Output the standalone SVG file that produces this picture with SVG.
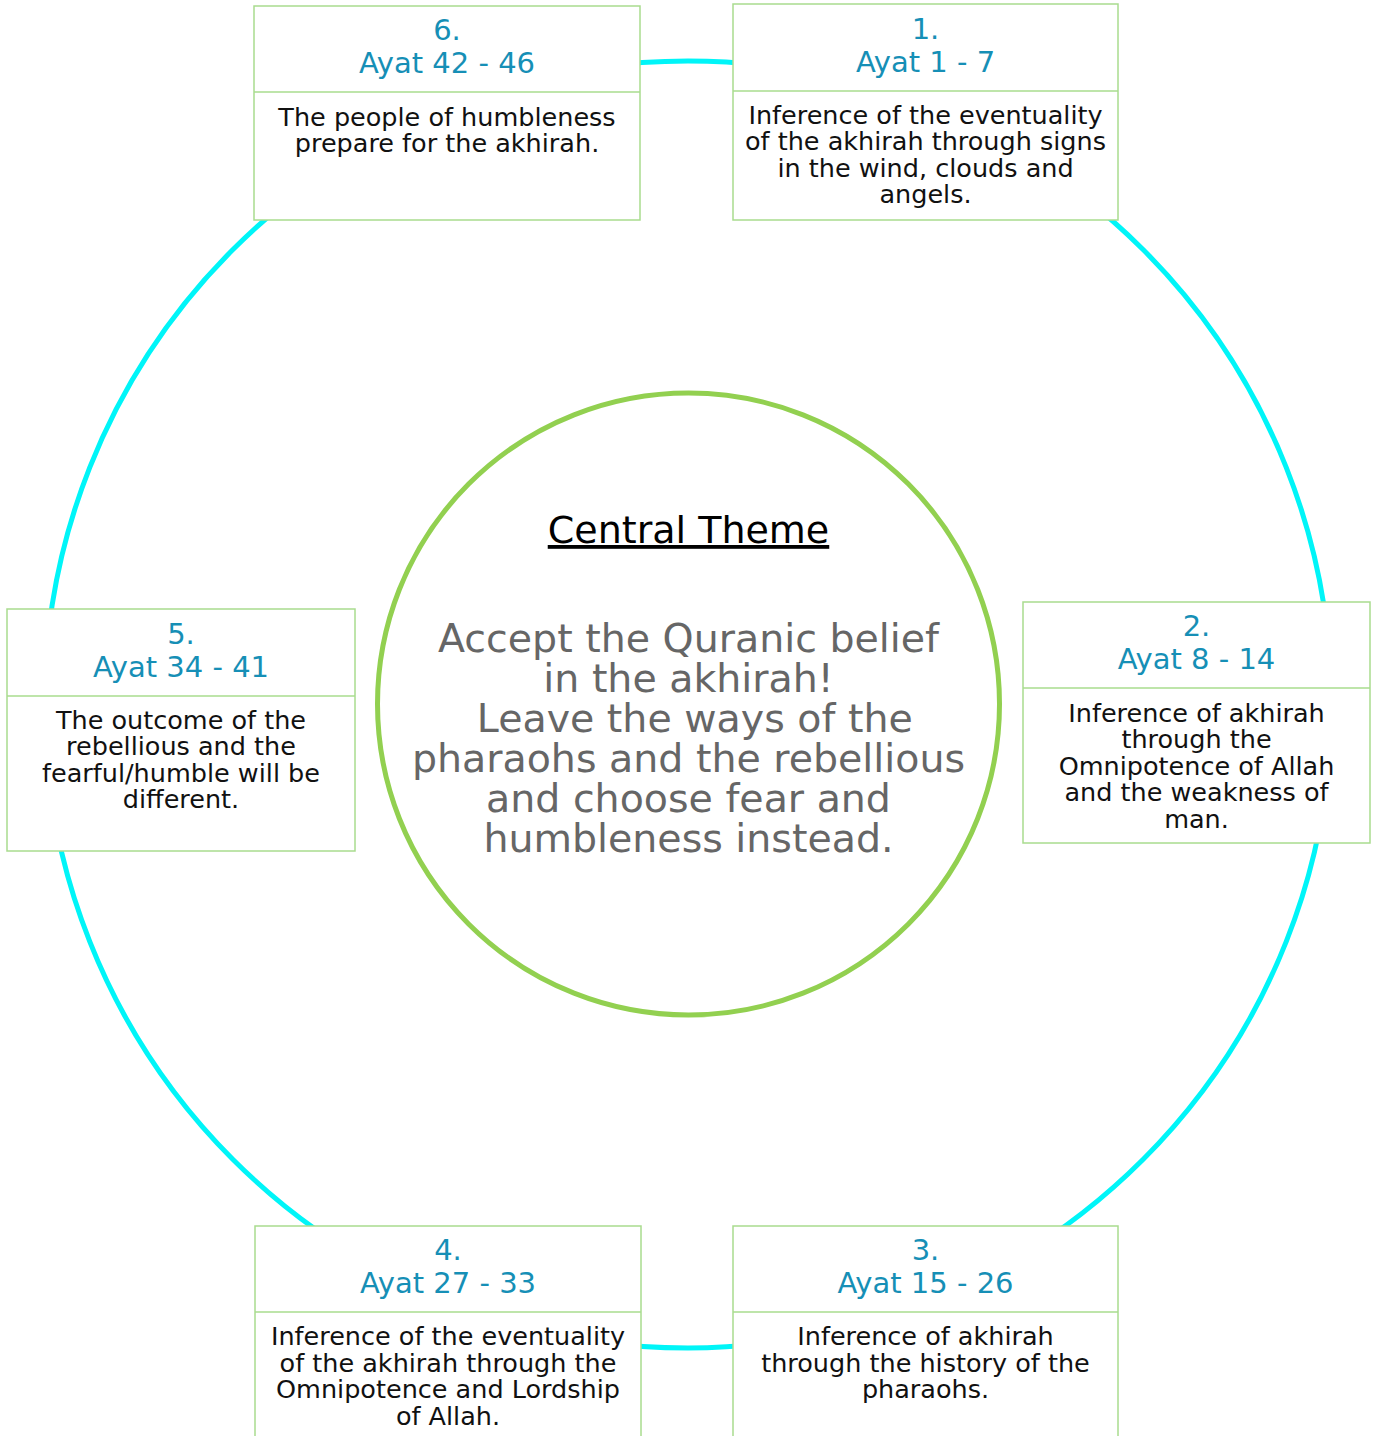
<svg xmlns="http://www.w3.org/2000/svg" width="1377" height="1436" viewBox="0 0 1377 1436">
<style>
.box{fill:#fff;stroke:#a9dc8e;stroke-width:1.5}
.div{stroke:#a9dc8e;stroke-width:1.5}
.hd{font-family:"DejaVu Sans",sans-serif;font-size:29px;fill:#168fb6;text-anchor:middle}
.bd{font-family:"DejaVu Sans",sans-serif;font-size:25.5px;fill:#111;text-anchor:middle}
.ct{font-family:"DejaVu Sans",sans-serif;font-size:39.5px;fill:#666;text-anchor:middle}
</style>
<rect width="1377" height="1436" fill="#fff"/>
<g id="connectors">
<circle cx="688" cy="704.5" r="643.5" fill="none" stroke="#00f5f8" stroke-width="5"/>
</g>
<g id="center">
<circle cx="688.5" cy="704" r="311" fill="#fff" stroke="#92d050" stroke-width="5"/>
<text x="688.5" y="543" font-family="'DejaVu Sans',sans-serif" font-size="38px" fill="#000" text-anchor="middle" text-decoration="underline">Central Theme</text>
<text class="ct" x="688.5" y="652">Accept the Quranic belief</text>
<text class="ct" x="688.5" y="692">in the akhirah!</text>
<text class="ct" x="688.5" y="732" xml:space="preserve"> Leave the ways of the</text>
<text class="ct" x="688.5" y="772">pharaohs and the rebellious</text>
<text class="ct" x="688.5" y="812">and choose fear and</text>
<text class="ct" x="688.5" y="852">humbleness instead.</text>
</g>
<g id="node1">
<rect class="box" x="733" y="4" width="385" height="216"/>
<line class="div" x1="733" y1="91" x2="1118" y2="91"/>
<text class="hd" x="925.5" y="39">1.</text>
<text class="hd" x="925.5" y="72">Ayat 1 - 7</text>
<text class="bd" x="925.5" y="124">Inference of the eventuality</text>
<text class="bd" x="925.5" y="150">of the akhirah through signs</text>
<text class="bd" x="925.5" y="177">in the wind, clouds and</text>
<text class="bd" x="925.5" y="203">angels.</text>
</g>
<g id="node2">
<rect class="box" x="1023" y="602" width="347" height="241"/>
<line class="div" x1="1023" y1="688" x2="1370" y2="688"/>
<text class="hd" x="1196.5" y="636">2.</text>
<text class="hd" x="1196.5" y="669">Ayat 8 - 14</text>
<text class="bd" x="1196.5" y="722">Inference of akhirah</text>
<text class="bd" x="1196.5" y="748">through the</text>
<text class="bd" x="1196.5" y="775">Omnipotence of Allah</text>
<text class="bd" x="1196.5" y="801">and the weakness of</text>
<text class="bd" x="1196.5" y="828">man.</text>
</g>
<g id="node3">
<rect class="box" x="733" y="1226" width="385" height="216"/>
<line class="div" x1="733" y1="1312" x2="1118" y2="1312"/>
<text class="hd" x="925.5" y="1260">3.</text>
<text class="hd" x="925.5" y="1293">Ayat 15 - 26</text>
<text class="bd" x="925.5" y="1345">Inference of akhirah</text>
<text class="bd" x="925.5" y="1372">through the history of the</text>
<text class="bd" x="925.5" y="1398">pharaohs.</text>
</g>
<g id="node4">
<rect class="box" x="255" y="1226" width="386" height="216"/>
<line class="div" x1="255" y1="1312" x2="641" y2="1312"/>
<text class="hd" x="448" y="1260">4.</text>
<text class="hd" x="448" y="1293">Ayat 27 - 33</text>
<text class="bd" x="448" y="1345">Inference of the eventuality</text>
<text class="bd" x="448" y="1372">of the akhirah through the</text>
<text class="bd" x="448" y="1398">Omnipotence and Lordship</text>
<text class="bd" x="448" y="1425">of Allah.</text>
</g>
<g id="node5">
<rect class="box" x="7" y="609" width="348" height="242"/>
<line class="div" x1="7" y1="696" x2="355" y2="696"/>
<text class="hd" x="181" y="644">5.</text>
<text class="hd" x="181" y="677">Ayat 34 - 41</text>
<text class="bd" x="181" y="729">The outcome of the</text>
<text class="bd" x="181" y="755">rebellious and the</text>
<text class="bd" x="181" y="782">fearful/humble will be</text>
<text class="bd" x="181" y="808">different.</text>
</g>
<g id="node6">
<rect class="box" x="254" y="6" width="386" height="214"/>
<line class="div" x1="254" y1="92" x2="640" y2="92"/>
<text class="hd" x="447" y="40">6.</text>
<text class="hd" x="447" y="73">Ayat 42 - 46</text>
<text class="bd" x="447" y="126">The people of humbleness</text>
<text class="bd" x="447" y="152">prepare for the akhirah.</text>
</g>
</svg>
